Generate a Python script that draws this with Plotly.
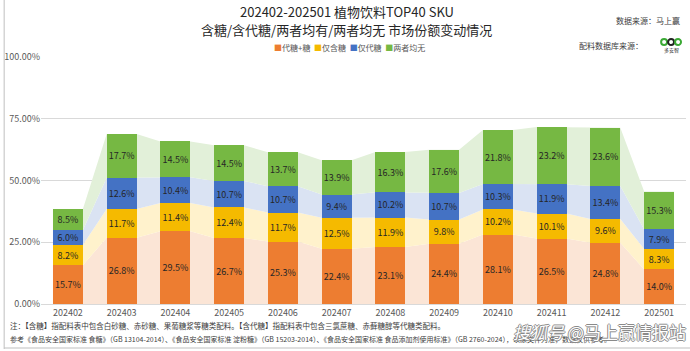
import plotly.graph_objects as go

categories = ["202402", "202403", "202404", "202405", "202406", "202407",
              "202408", "202409", "202410", "202411", "202412", "202501"]
series_names = ["代糖+糖", "仅含糖", "仅代糖", "两者均无"]
sugar_and_sub = [15.7, 26.8, 29.5, 26.7, 25.3, 22.4, 23.1, 24.4, 28.1, 26.5, 24.8, 14.0]
sugar_only = [8.2, 11.7, 11.4, 12.4, 11.7, 12.5, 11.9, 9.8, 10.2, 10.1, 9.6, 8.3]
sub_only = [6.0, 12.6, 10.4, 10.7, 10.7, 9.4, 10.2, 10.7, 10.3, 11.9, 13.4, 7.9]
neither = [8.5, 17.7, 14.5, 14.5, 13.7, 13.9, 16.3, 17.6, 21.8, 23.2, 23.6, 15.3]
y_ticks = [0, 0.25, 0.5, 0.75, 1.0]

series = [sugar_and_sub, sugar_only, sub_only, neither]
bar_colors = ["#ED7D31", "#F5BA00", "#4472C4", "#76B843"]
area_colors = ["#FBE5D6", "#FFF2CC", "#DAE3F3", "#E2F0D9"]

FONT = "Noto Sans CJK SC"
W = 0.556
n = len(categories)
xs = list(range(n))

fig = go.Figure()

# connecting bands (main axes, drawn below the overlaid bar axes)
cum_prev = [0.0] * n
for k, vals in enumerate(series):
    cum = [cum_prev[i] + vals[i] / 100 for i in range(n)]
    px, py = [], []
    for i in range(n):
        px += [i - W / 2, i + W / 2]
        py += [cum[i], cum[i]]
    for i in reversed(range(n)):
        px += [i + W / 2, i - W / 2]
        py += [cum_prev[i], cum_prev[i]]
    fig.add_trace(go.Scatter(x=px, y=py, fill="toself", fillcolor=area_colors[k],
                             mode="lines", line=dict(width=0), showlegend=False,
                             hoverinfo="skip"))
    cum_prev = cum

for k, vals in enumerate(series):
    fig.add_trace(go.Bar(
        x=xs, y=[v / 100 for v in vals], name=series_names[k], width=W,
        xaxis="x2", yaxis="y2",
        marker=dict(color=bar_colors[k], line=dict(width=0)),
        text=[f"{v:.1f}%" for v in vals], textposition="inside",
        insidetextanchor="middle", textangle=0,
        textfont=dict(size=9, color="#262626", family=FONT),
        showlegend=False,
    ))

fig.update_layout(
    barmode="stack",
    width=690, height=351,
    margin=dict(l=38, r=4, t=57, b=47),
    paper_bgcolor="white", plot_bgcolor="white",
    font=dict(family=FONT, color="#404040"),
    uniformtext=dict(minsize=9, mode="show"),
    showlegend=False,
    xaxis=dict(range=[-0.5, n - 0.5], tickmode="array", tickvals=xs, ticktext=categories,
               showgrid=False, zeroline=False, showline=True, linecolor="#D9D9D9",
               tickfont=dict(size=9, color="#595959"), ticks=""),
    yaxis=dict(range=[0, 1.0], tickmode="array", tickvals=y_ticks, tickformat=".2%",
               showgrid=True, gridcolor="#D9D9D9", gridwidth=1, zeroline=False,
               tickfont=dict(size=9, color="#595959"), ticks="", showline=False),
    xaxis2=dict(range=[-0.5, n - 0.5], overlaying="x", visible=False),
    yaxis2=dict(range=[0, 1.0], overlaying="y", visible=False),
)

def px2x(p):
    return (p - 38) / 648

def px2y(p):
    return (304 - p) / 247

legend_text = "&nbsp;&nbsp;".join(
    f"<span style='color:{c}'>■</span>{nm}" for c, nm in zip(bar_colors, series_names))

annos = [
    dict(text="202402-202501 植物饮料TOP40 SKU", x=px2x(345), y=px2y(12),
         font=dict(size=13, color="#262626")),
    dict(text="含糖/含代糖/两者均有/两者均无 市场份额变动情况", x=px2x(345), y=px2y(30),
         font=dict(size=13, color="#262626")),
    dict(text=legend_text, x=px2x(348), y=px2y(47), font=dict(size=8, color="#595959")),
    dict(text="数据来源：马上赢", x=px2x(682), y=px2y(21), xanchor="right",
         font=dict(size=8, color="#404040")),
    dict(text="配料数据库来源：", x=px2x(645), y=px2y(45), xanchor="right",
         font=dict(size=8, color="#404040")),
    dict(text="多安智", x=px2x(671), y=px2y(50),
         font=dict(size=5, color="#222222")),
    dict(text="注：【含糖】指配料表中包含白砂糖、赤砂糖、果葡糖浆等糖类配料。【含代糖】指配料表中包含三氯蔗糖、赤藓糖醇等代糖类配料。",
         x=px2x(5), y=px2y(325), xanchor="left", font=dict(size=7.5, color="#404040")),
    dict(text="参考《食品安全国家标准 食糖》（GB 13104-2014）、《食品安全国家标准 淀粉糖》（GB 15203-2014）、《食品安全国家标准 食品添加剂使用标准》（GB 2760-2024），以原文件为准，数据仅供参考。",
         x=px2x(5), y=px2y(339), xanchor="left", font=dict(size=7, color="#404040")),
    dict(text="<i>搜狐号</i> @马上赢情报站", x=px2x(688), y=px2y(331), xanchor="right",
         font=dict(size=17, color="white",
                   shadow="-1px 0 #8a8a8a, 1px 0 #8a8a8a, 0 -1px #8a8a8a, 0 1px #8a8a8a")),
]
for a in annos:
    base = dict(xref="paper", yref="paper", showarrow=False, xanchor="center",
                yanchor="middle")
    base.update(a)
    fig.add_annotation(**base)

# logo approximation
for cx, col in [(664, "#3BA935"), (671, "#222222"), (678, "#3BA935")]:
    fig.add_shape(type="circle", xref="paper", yref="paper",
                  x0=px2x(cx - 3), x1=px2x(cx + 3), y0=px2y(45), y1=px2y(39),
                  line=dict(color=col, width=2))

# border lines
fig.add_shape(type="line", xref="paper", yref="paper", x0=px2x(1), x1=px2x(1),
              y0=px2y(0), y1=px2y(349), line=dict(color="#BFBFBF", width=1))
fig.add_shape(type="line", xref="paper", yref="paper", x0=px2x(1), x1=px2x(690),
              y0=px2y(348), y1=px2y(348), line=dict(color="#BFBFBF", width=1))

fig.write_html("out.html")
